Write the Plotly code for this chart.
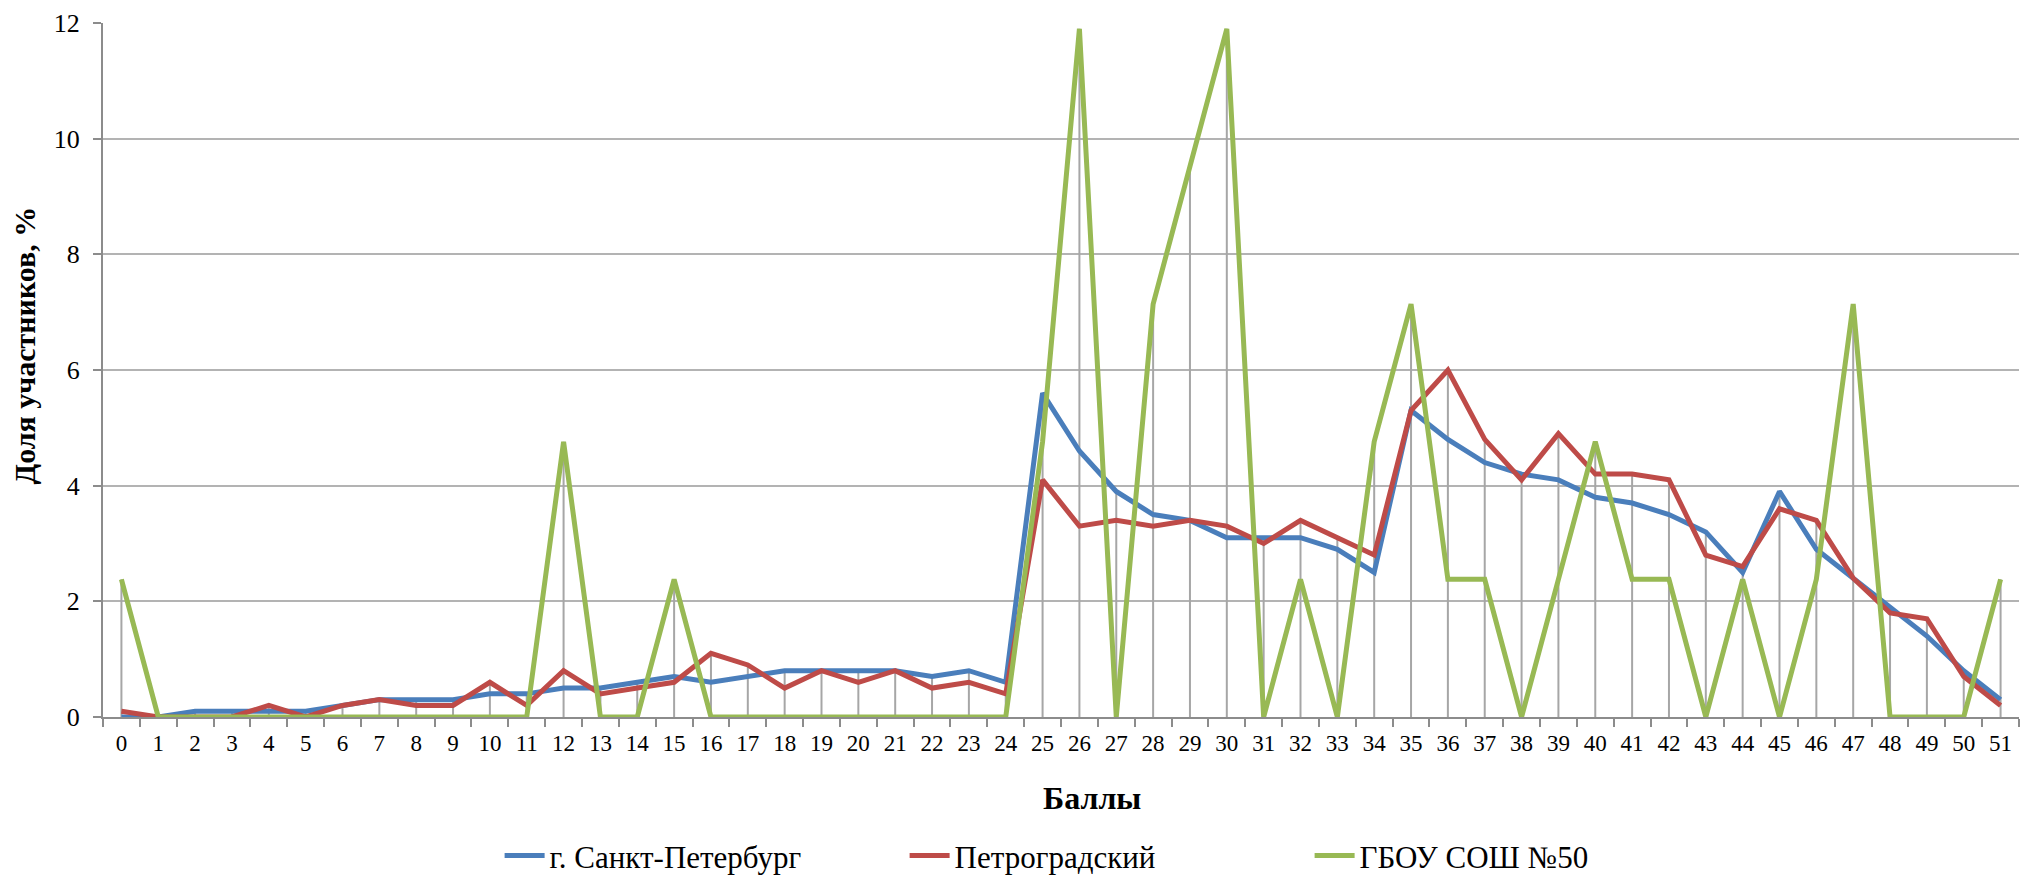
import plotly.graph_objects as go

categories = [str(i) for i in range(52)]

spb = [0.0, 0.0, 0.1, 0.1, 0.1, 0.1, 0.2, 0.3, 0.3, 0.3, 0.4, 0.4, 0.5, 0.5, 0.6, 0.7,
       0.6, 0.7, 0.8, 0.8, 0.8, 0.8, 0.7, 0.8, 0.6, 5.6, 4.6, 3.9, 3.5, 3.4, 3.1, 3.1,
       3.1, 2.9, 2.5, 5.3, 4.8, 4.4, 4.2, 4.1, 3.8, 3.7, 3.5, 3.2, 2.5, 3.9, 2.9, 2.4,
       1.9, 1.4, 0.8, 0.3]

petro = [0.1, 0.0, 0.0, 0.0, 0.2, 0.0, 0.2, 0.3, 0.2, 0.2, 0.6, 0.2, 0.8, 0.4, 0.5, 0.6,
         1.1, 0.9, 0.5, 0.8, 0.6, 0.8, 0.5, 0.6, 0.4, 4.1, 3.3, 3.4, 3.3, 3.4, 3.3, 3.0,
         3.4, 3.1, 2.8, 5.3, 6.0, 4.8, 4.1, 4.9, 4.2, 4.2, 4.1, 2.8, 2.6, 3.6, 3.4, 2.4,
         1.8, 1.7, 0.7, 0.2]

school = [2.38, 0, 0, 0, 0, 0, 0, 0, 0, 0, 0, 0, 4.76, 0, 0, 2.38,
          0, 0, 0, 0, 0, 0, 0, 0, 0, 4.76, 11.9, 0, 7.14, 9.52, 11.9, 0,
          2.38, 0, 4.76, 7.14, 2.38, 2.38, 0, 2.38, 4.76, 2.38, 2.38, 0, 2.38, 0, 2.38, 7.14,
          0, 0, 0, 2.38]

series_names = ["г. Санкт-Петербург", "Петроградский", "ГБОУ СОШ №50"]
series_colors = ["#4A7EBB", "#BE4B48", "#98B954"]

FONT = "Liberation Serif, Times New Roman, serif"

# drop lines from the highest point of each category to the axis
drop_x, drop_y = [], []
for c, a, b, s in zip(categories, spb, petro, school):
    drop_x += [c, c, None]
    drop_y += [0, max(a, b, s), None]

fig = go.Figure()
fig.add_trace(go.Scatter(x=drop_x, y=drop_y, mode="lines",
                         line=dict(color="#A6A6A6", width=2),
                         showlegend=False, hoverinfo="skip"))
for name, vals, col in zip(series_names, [spb, petro, school], series_colors):
    fig.add_trace(go.Scatter(x=categories, y=vals, mode="lines", name=name,
                             line=dict(color=col, width=5)))

fig.update_layout(
    width=2020, height=887,
    paper_bgcolor="white", plot_bgcolor="white",
    margin=dict(l=103, r=1, t=23, b=170),
    font=dict(family=FONT, color="black"),
    showlegend=True,
    legend=dict(orientation="h", x=0.207, xanchor="left", y=-0.2, yanchor="middle",
                font=dict(size=31, family=FONT), entrywidth=350, entrywidthmode="pixels",
                itemwidth=40),
    annotations=[
        dict(text="<b>Баллы</b>", x=0.516, y=-0.117, xref="paper", yref="paper",
             xanchor="center", yanchor="middle",
             showarrow=False, font=dict(size=32, family=FONT)),
        dict(text="<b>Доля участников, %</b>", x=-0.041, y=0.536, xref="paper",
             yref="paper", xanchor="center", yanchor="middle",
             showarrow=False, textangle=-90, font=dict(size=30, family=FONT)),
    ],
)
fig.update_xaxes(type="category", range=[-0.5, 51.5], showgrid=False,
                 showline=True, linecolor="#8C8C8C", linewidth=2,
                 ticks="outside", tickson="boundaries", ticklen=8, tickcolor="#8C8C8C",
                 tickwidth=2, tickfont=dict(size=23, family=FONT), ticklabelstandoff=4)
fig.update_yaxes(range=[0, 12], dtick=2, showgrid=True, gridcolor="#B3B3B3", gridwidth=2,
                 showline=True, linecolor="#8C8C8C", linewidth=2, zeroline=False,
                 ticks="outside", ticklen=8, tickcolor="#8C8C8C", tickwidth=2,
                 tickfont=dict(size=26, family=FONT), ticklabelstandoff=8)

fig.write_html("out.html", config={"displayModeBar": False},
               post_script="document.body.style.margin='0';")
